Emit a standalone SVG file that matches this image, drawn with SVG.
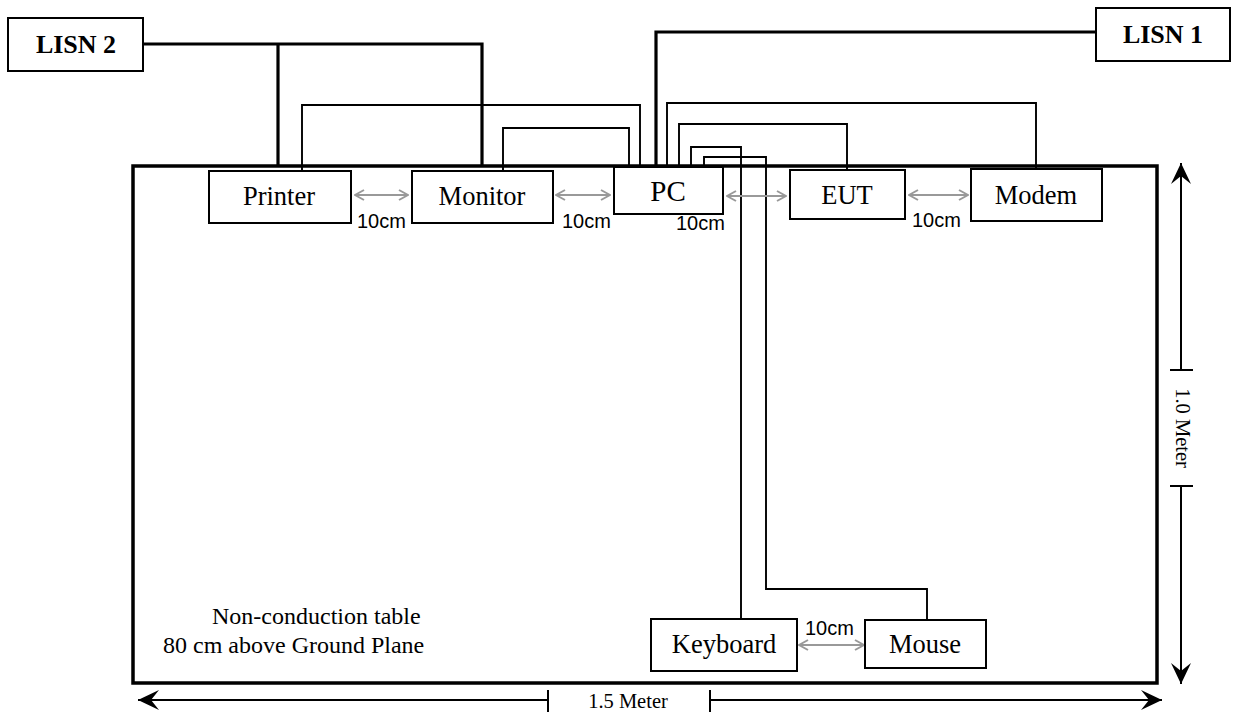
<svg xmlns="http://www.w3.org/2000/svg" width="1233" height="713" viewBox="0 0 1233 713">
<style>
.box{fill:#fff;stroke:#000;stroke-width:2}
.lbl{font-family:"Liberation Serif","Times New Roman",serif;font-size:26.5px;fill:#000;text-anchor:middle}
.lisn{font-family:"Liberation Serif","Times New Roman",serif;font-size:26px;font-weight:bold;fill:#000;text-anchor:middle}
.cm{font-family:"Liberation Sans",Arial,sans-serif;font-size:20px;fill:#000}
.note{font-family:"Liberation Serif","Times New Roman",serif;font-size:24px;fill:#000}
.dimt{font-family:"Liberation Serif","Times New Roman",serif;font-size:20.5px;fill:#000;text-anchor:middle}
.power{fill:none;stroke:#000;stroke-width:3.2}
.cable{fill:none;stroke:#000;stroke-width:1.9}
.gap{fill:none;stroke:#999;stroke-width:2;marker-start:url(#ga);marker-end:url(#ga)}
.dim{fill:none;stroke:#000;stroke-width:2}
</style>
<defs>
<marker id="ga" viewBox="0 0 12 12" refX="11" refY="6" markerWidth="12" markerHeight="12" markerUnits="userSpaceOnUse" orient="auto-start-reverse">
<path d="M2,1 L11,6 L2,11" fill="none" stroke="#999" stroke-width="2"/>
</marker>
<marker id="da" viewBox="0 0 24 24" refX="23" refY="12" markerWidth="24" markerHeight="24" markerUnits="userSpaceOnUse" orient="auto-start-reverse">
<path d="M23,12 L2,2 L10,12 L2,22 Z" fill="#000"/>
</marker>
</defs>

<g id="table">
<rect x="133" y="166" width="1024" height="517" fill="none" stroke="#000" stroke-width="3.5"/>
<text class="note" x="212" y="624">Non-conduction table</text>
<text class="note" x="163" y="653">80 cm above Ground Plane</text>
</g>

<g id="connectors">
<path class="power" d="M143,44 H482 V166"/>
<path class="power" d="M278,44 V167"/>
<path class="power" d="M1096,32 H656 V166"/>
<path class="cable" d="M302,171 V105 H640 V167"/>
<path class="cable" d="M503,171 V128 H629 V167"/>
<path class="cable" d="M667,167 V103 H1036 V169"/>
<path class="cable" d="M679,167 V124 H847 V170"/>
<path class="cable" d="M691,167 V147 H741 V619"/>
<path class="cable" d="M704,167 V157 H766 V589 H927 V620"/>
<line class="gap" x1="355" y1="195" x2="408" y2="195"/>
<line class="gap" x1="556" y1="195" x2="610" y2="195"/>
<line class="gap" x1="727" y1="196" x2="786" y2="196"/>
<line class="gap" x1="909" y1="195" x2="968" y2="195"/>
<line class="gap" x1="799" y1="645" x2="864" y2="645"/>
</g>

<g id="labels-10cm">
<text class="cm" x="357" y="228">10cm</text>
<text class="cm" x="562" y="228">10cm</text>
<text class="cm" x="676" y="230">10cm</text>
<text class="cm" x="912" y="227">10cm</text>
<text class="cm" x="805" y="635">10cm</text>
</g>

<g id="lisn2"><rect class="box" x="8" y="18" width="135" height="53"/><text class="lisn" x="76" y="53">LISN 2</text></g>
<g id="lisn1"><rect class="box" x="1096" y="8" width="134" height="53"/><text class="lisn" x="1163" y="43">LISN 1</text></g>
<g id="printer"><rect class="box" x="209" y="171" width="142" height="52"/><text class="lbl" x="279" y="205">Printer</text></g>
<g id="monitor"><rect class="box" x="412" y="171" width="141" height="52"/><text class="lbl" x="482" y="205">Monitor</text></g>
<g id="pc"><rect class="box" x="614" y="167" width="109" height="47"/><text class="lbl" x="668" y="201" style="font-size:29px">PC</text></g>
<g id="eut"><rect class="box" x="790" y="170" width="115" height="49"/><text class="lbl" x="847" y="204">EUT</text></g>
<g id="modem"><rect class="box" x="971" y="169" width="131" height="52"/><text class="lbl" x="1036" y="204">Modem</text></g>
<g id="keyboard"><rect class="box" x="651" y="619" width="146" height="52"/><text class="lbl" x="724" y="653">Keyboard</text></g>
<g id="mouse"><rect class="box" x="865" y="620" width="121" height="48"/><text class="lbl" x="925" y="653">Mouse</text></g>

<g id="dimensions">
<line class="dim" x1="548" y1="700" x2="138" y2="700" marker-end="url(#da)"/>
<line class="dim" x1="548" y1="690" x2="548" y2="712"/>
<line class="dim" x1="710" y1="700" x2="1162" y2="700" marker-end="url(#da)"/>
<line class="dim" x1="710" y1="690" x2="710" y2="712"/>
<text class="dimt" x="628" y="708">1.5 Meter</text>
<line class="dim" x1="1181" y1="370" x2="1181" y2="163" marker-end="url(#da)"/>
<line class="dim" x1="1170" y1="370" x2="1193" y2="370"/>
<line class="dim" x1="1181" y1="486" x2="1181" y2="684" marker-end="url(#da)"/>
<line class="dim" x1="1170" y1="486" x2="1193" y2="486"/>
<text class="dimt" transform="translate(1176,428) rotate(90)">1.0 Meter</text>
</g>
</svg>
